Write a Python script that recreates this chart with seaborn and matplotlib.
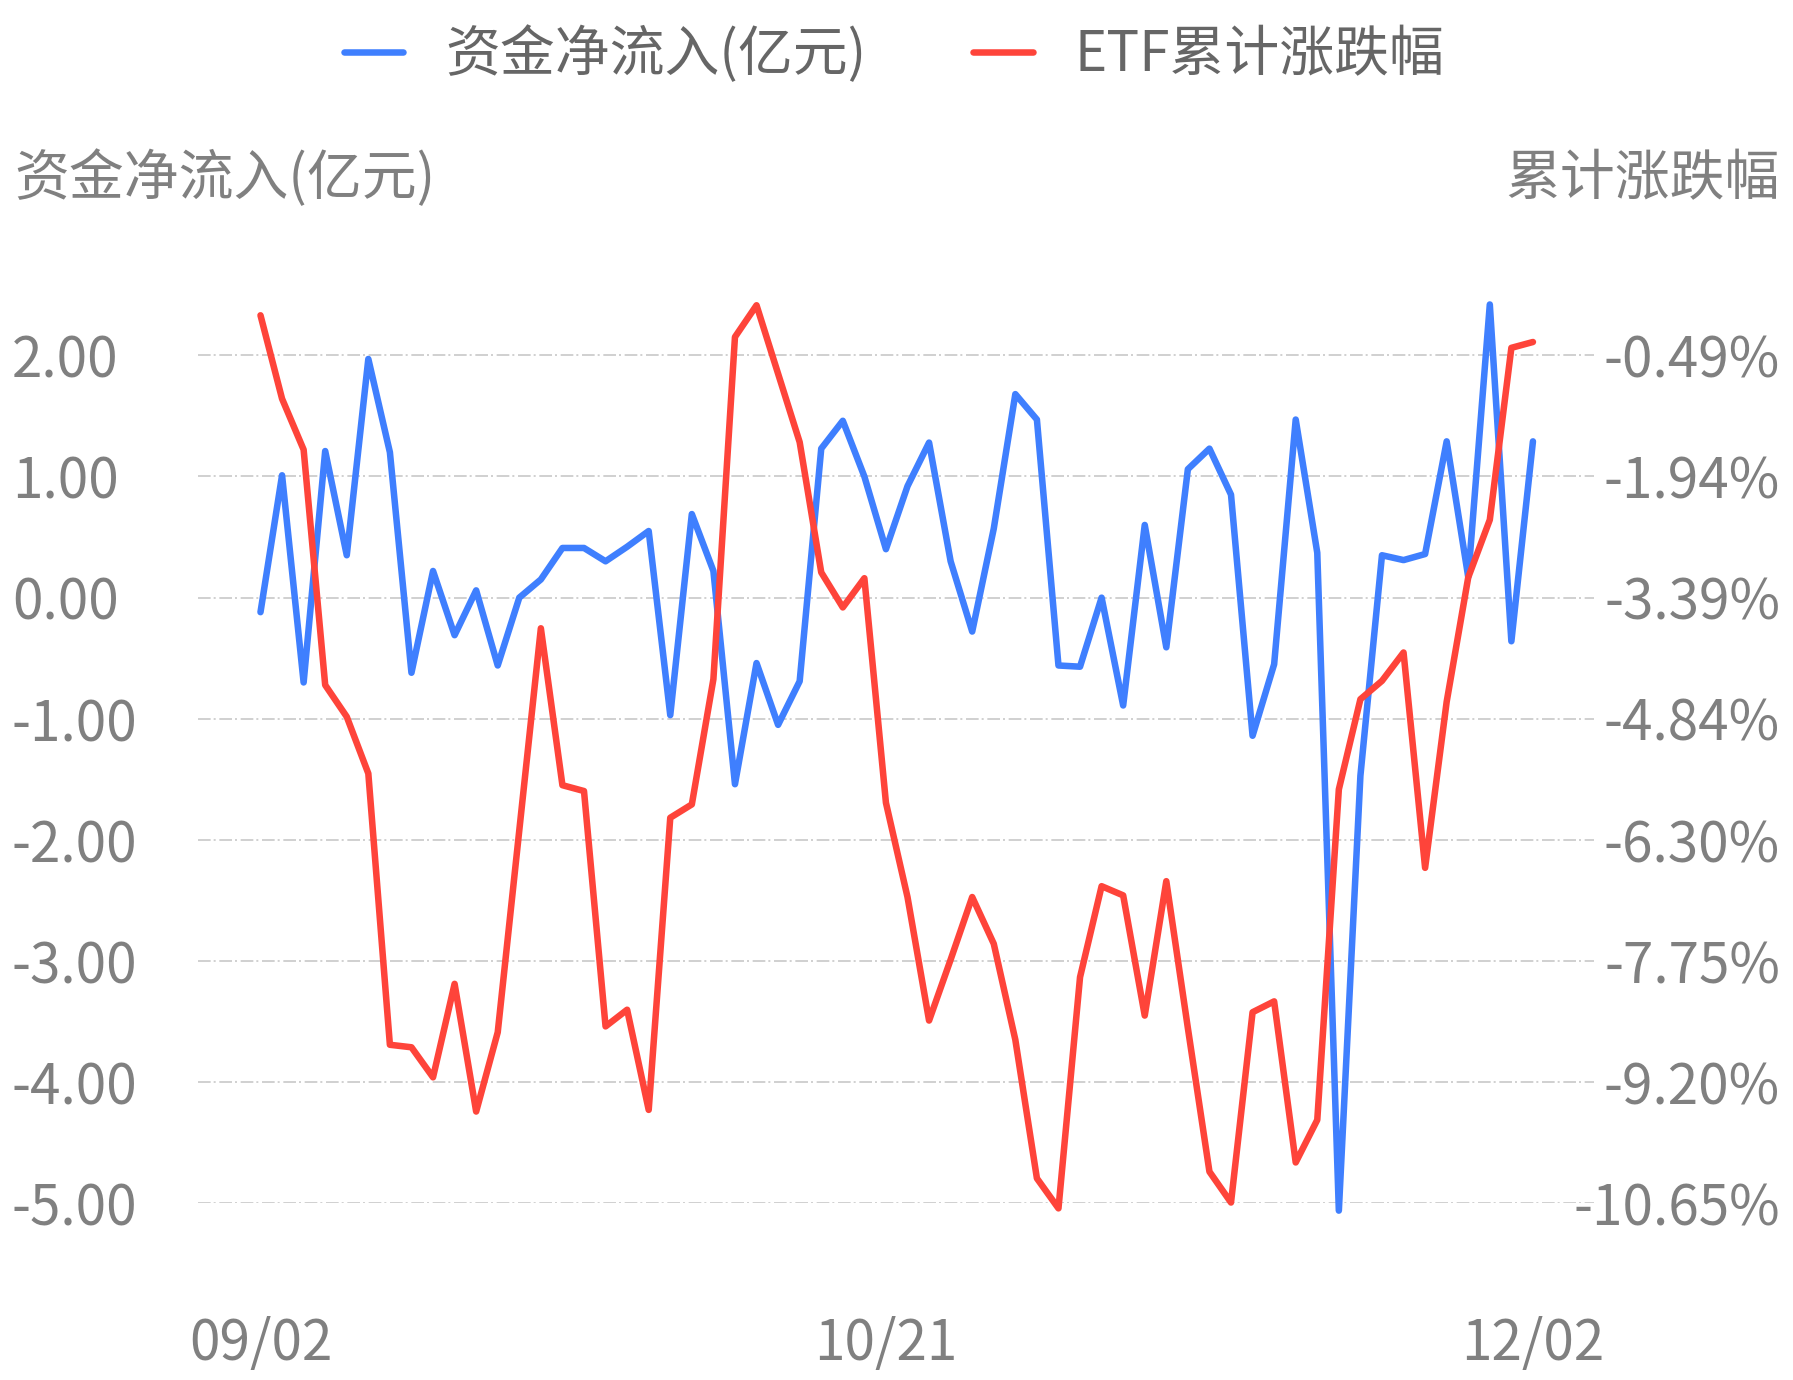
import numpy as np
import pandas as pd
import matplotlib
matplotlib.use('Agg')
import matplotlib.pyplot as plt
import seaborn as sns

# trading days 2025-09-02 .. 2025-12-02
dates = ['09/02', '09/03', '09/04', '09/05', '09/08', '09/09', '09/10', '09/11', '09/12', '09/15',
         '09/16', '09/17', '09/18', '09/19', '09/22', '09/23', '09/24', '09/25', '09/26', '09/29',
         '09/30', '10/09', '10/10', '10/13', '10/14', '10/15', '10/16', '10/17', '10/20', '10/21',
         '10/22', '10/23', '10/24', '10/27', '10/28', '10/29', '10/30', '10/31', '11/03', '11/04',
         '11/05', '11/06', '11/07', '11/10', '11/11', '11/12', '11/13', '11/14', '11/17', '11/18',
         '11/19', '11/20', '11/21', '11/24', '11/25', '11/26', '11/27', '11/28', '12/01', '12/02']

# net inflow, 100 million yuan
net_flow = [-0.12, 1.01, -0.70, 1.21, 0.35, 1.97, 1.20, -0.62, 0.22, -0.31,
            0.06, -0.56, 0.00, 0.15, 0.41, 0.41, 0.30, 0.42, 0.55, -0.97,
            0.69, 0.22, -1.54, -0.54, -1.05, -0.69, 1.23, 1.46, 1.00, 0.40,
            0.92, 1.28, 0.30, -0.28, 0.57, 1.68, 1.47, -0.56, -0.57, 0.00,
            -0.89, 0.60, -0.41, 1.06, 1.23, 0.85, -1.14, -0.55, 1.47, 0.37,
            -5.06, -1.47, 0.35, 0.31, 0.36, 1.29, 0.17, 2.42, -0.36, 1.29]

# ETF cumulative change, %
etf_pct = [-0.01, -1.01, -1.62, -4.44, -4.82, -5.50, -8.75, -8.78, -9.14, -8.02,
           -9.55, -8.60, -6.18, -3.76, -5.64, -5.71, -8.53, -8.33, -9.53, -6.03,
           -5.87, -4.37, -0.27, 0.11, -0.71, -1.53, -3.09, -3.51, -3.16, -5.85,
           -6.98, -8.46, -7.73, -6.98, -7.54, -8.69, -10.35, -10.71, -7.94, -6.85,
           -6.96, -8.40, -6.79, -8.55, -10.27, -10.64, -8.36, -8.23, -10.16, -9.65,
           -5.69, -4.61, -4.39, -4.05, -6.63, -4.64, -3.15, -2.46, -0.40, -0.33]

left_ticks = [2.0, 1.0, 0.0, -1.0, -2.0, -3.0, -4.0, -5.0]
right_ticks = [-0.49, -1.94, -3.39, -4.84, -6.30, -7.75, -9.20, -10.65]
x_tick_pos = [0, 29, 59]

blue = '#3f7ffe'
red = '#fe443a'
tick_gray = '#808080'
text_gray = '#666666'
fs = 39.5
lw = 4.7

df = pd.DataFrame({'idx': np.arange(len(dates)), 'date': dates,
                   'flow': net_flow, 'pct': etf_pct})

sns.set_theme(style='white')
plt.rcParams['font.family'] = ['Noto Sans CJK SC', 'DejaVu Sans']

fig = plt.figure(figsize=(17.93, 13.80), dpi=100)
ax = fig.add_axes([0.1104, 0.1280, 0.889 - 0.1104, 0.782 - 0.1280])
ax2 = ax.twinx()

sns.lineplot(data=df, x='idx', y='flow', ax=ax, color=blue, linewidth=lw,
             solid_joinstyle='round', solid_capstyle='round', clip_on=False,
             label='资金净流入(亿元)', legend=False)
sns.lineplot(data=df, x='idx', y='pct', ax=ax2, color=red, linewidth=lw,
             solid_joinstyle='round', solid_capstyle='round', clip_on=False,
             label='ETF累计涨跌幅', legend=False)

ax.set_xlim(-2.90, 61.83)
ax.set_ylim(-5.0, 2.45)
# map right axis so its ticks sit on the left gridlines
k = (right_ticks[0] - right_ticks[-1]) / (left_ticks[0] - left_ticks[-1])
lo, hi = ax.get_ylim()
ax2.set_ylim(right_ticks[-1] + (lo - left_ticks[-1]) * k,
             right_ticks[-1] + (hi - left_ticks[-1]) * k)

ax.set_yticks(left_ticks)
ax.set_yticklabels([f'{v:.2f}' for v in left_ticks])
ax2.set_yticks(right_ticks)
ax2.set_yticklabels([f'{v:.2f}%' for v in right_ticks])
ax.set_xticks(x_tick_pos)
ax.set_xticklabels([dates[i] for i in x_tick_pos])

ax.tick_params(axis='y', length=0, pad=134, labelsize=fs, labelcolor=tick_gray)
ax2.tick_params(axis='y', length=0, pad=134, labelsize=fs, labelcolor=tick_gray)
ax.tick_params(axis='x', length=0, pad=81, labelsize=fs, labelcolor=tick_gray)
for lbl in ax.get_yticklabels():
    lbl.set_ha('left')
for lbl in ax2.get_yticklabels():
    lbl.set_ha('right')

ax.set_xlabel('')
ax.set_ylabel('')
ax2.set_ylabel('')
for a in (ax, ax2):
    for s in a.spines.values():
        s.set_visible(False)

ax.yaxis.grid(True, color='#c8c8c8', linewidth=1.2, dashes=(7.6, 1.8, 1.2, 2.2))
ax.xaxis.grid(False)
ax.set_axisbelow(True)

fig.text(14 / 1793, 1 - 179 / 1380, '资金净流入(亿元)', ha='left', va='center',
         fontsize=fs, color=tick_gray)
fig.text(1780 / 1793, 1 - 179 / 1380, '累计涨跌幅', ha='right', va='center',
         fontsize=fs, color=tick_gray)

handles = ax.get_lines() + ax2.get_lines()
leg = fig.legend(handles=handles, labels=['资金净流入(亿元)', 'ETF累计涨跌幅'],
                 loc='center', bbox_to_anchor=(0.4986, 1 - 55 / 1380), ncol=2,
                 frameon=False, fontsize=fs, handlelength=1.09, handletextpad=0.76,
                 columnspacing=1.95, labelcolor=text_gray)
for h in leg.get_lines():
    h.set_linewidth(lw)
    h.set_solid_capstyle('round')

fig.savefig('out.png', dpi=100)
